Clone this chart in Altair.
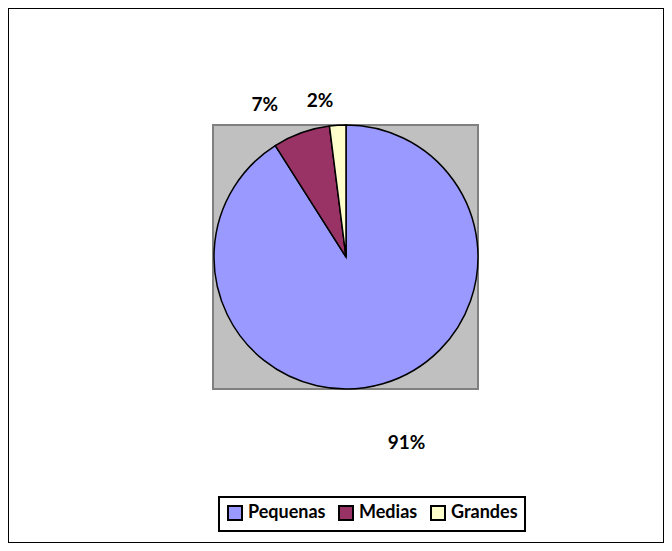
import altair as alt
import pandas as pd

categories = ["Pequenas", "Medias", "Grandes"]
values = [91, 7, 2]
labels = ["91%", "7%", "2%"]
colors = ["#9999ff", "#993366", "#ffffcc"]

df = pd.DataFrame({"cat": categories, "val": values, "label": labels, "idx": [0, 1, 2]})

W, H = 656, 535
CX, CY = 338, 249
R = 132

base = alt.Chart(df).encode(
    theta=alt.Theta("val:Q", stack=True),
    order=alt.Order("idx:Q"),
)

bg = alt.Chart(df).mark_rect(fill="#c0c0c0", stroke="#808080", strokeWidth=2).encode(
    x=alt.value(205), x2=alt.value(470), y=alt.value(117), y2=alt.value(381)
)

pie = base.mark_arc(radius=R, stroke="black", strokeWidth=1.5, opacity=1).encode(
    color=alt.Color(
        "cat:N",
        scale=alt.Scale(domain=categories, range=colors),
        sort=categories,
        legend=alt.Legend(title=None),
    ),
    x=alt.value(CX),
    y=alt.value(CY),
)

def lbl(cat, radius, dx, dy):
    return base.mark_text(
        radius=radius, dx=dx, dy=dy, font="Lato", fontWeight="bold", fontSize=19, color="black"
    ).encode(
        text=alt.condition(alt.datum.cat == cat, "label:N", alt.value("")),
        x=alt.value(CX),
        y=alt.value(CY),
    )

chart = alt.layer(
    bg,
    pie,
    lbl("Pequenas", 192, 7, 2),
    lbl("Medias", 172, -23, 10),
    lbl("Grandes", 160, -16, 4),
).properties(
    width=W, height=H, padding=0, autosize=alt.AutoSizeParams(type="none")
).configure_view(
    stroke="black", strokeWidth=2
).configure_legend(
    orient="none",
    legendX=211,
    legendY=489,
    direction="horizontal",
    strokeColor="black",
    strokeWidth=2,
    padding=7,
    symbolType="square",
    symbolSize=196,
    symbolStrokeColor="black",
    symbolStrokeWidth=2,
    symbolOpacity=1,
    labelFont="Lato",
    labelFontWeight="bold",
    labelFontSize=18,
    labelColor="black",
    labelOffset=4,
    columnPadding=9,
)

chart.save("out.html", embed_options={"renderer": "svg", "actions": False})
